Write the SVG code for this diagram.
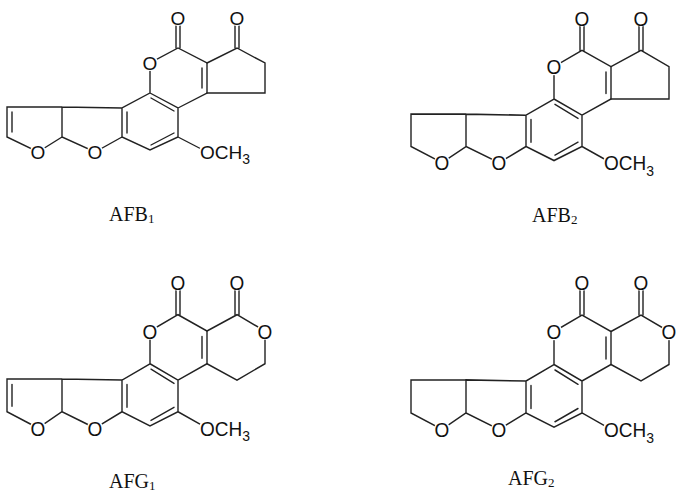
<svg xmlns="http://www.w3.org/2000/svg" xmlns:xlink="http://www.w3.org/1999/xlink" width="679" height="496" viewBox="0 0 679 496">
<style>
.b{stroke:#222;stroke-width:1.4;fill:none;stroke-linecap:round}
.bg{fill:#fff}
.a{font-family:"Liberation Sans",Arial,sans-serif;font-size:19px;fill:#111;text-anchor:middle}
.oc{font-family:"Liberation Sans",Arial,sans-serif;font-size:19px;fill:#111}
.lb{font-family:"Liberation Serif","Times New Roman",serif;font-size:20px;fill:#111}
</style>
<defs>
<g id="common">
<path class="b" d="M150,93 L178,108 L178,137 L150,150 L122,137 L122,108 Z M151,98 L174,111 M127,112 L127,133 M174,133 L151,145 M150,93 L150,63 L178,48 L207,63 L207,93 L178,108 M202,68 L202,88 M176,48 L176,18 M180,48 L180,18 M178,137 L207,152 M122,108 L62,107 L62,137 L95,152 L122,137 M62,107 L7,107 L7,137 L38,152 L62,137"/>
<circle class="bg" cx="150" cy="63" r="8"/><circle class="bg" cx="178" cy="18" r="8"/><circle class="bg" cx="95" cy="152" r="8"/><circle class="bg" cx="38" cy="152" r="8"/><circle class="bg" cx="207" cy="152" r="8"/>
<text class="a" x="150" y="70">O</text><text class="a" x="178" y="25">O</text><text class="a" x="95" y="159">O</text><text class="a" x="38" y="159">O</text>
<text class="oc" x="200" y="159">OCH<tspan font-size="14" dy="5">3</tspan></text>
</g>
<path id="dbl" class="b" d="M12,112 L12,132"/>
<g id="cp">
<path class="b" d="M207,63 L237,48 L265,63 L265,93 L207,93 M235,48 L235,18 M239,48 L239,18"/>
<circle class="bg" cx="237" cy="18" r="8"/><text class="a" x="237" y="25">O</text>
</g>
<g id="lac">
<path class="b" d="M207,63 L237,48 L265,63 L265,93 L237,108 L207,93 M235,48 L235,18 M239,48 L239,18"/>
<circle class="bg" cx="237" cy="18" r="8"/><circle class="bg" cx="265" cy="63" r="8"/>
<text class="a" x="237" y="25">O</text><text class="a" x="265" y="70">O</text>
</g>
</defs>
<g id="AFB1"><use xlink:href="#common"/><use xlink:href="#dbl"/><use xlink:href="#cp"/></g>
<g id="AFB2" transform="translate(582,18) scale(1.0,1.08) translate(-178,-18)"><use xlink:href="#common"/><use xlink:href="#cp"/></g>
<g id="AFG1" transform="translate(178,282) scale(1.0,1.09) translate(-178,-18)"><use xlink:href="#common"/><use xlink:href="#dbl"/><use xlink:href="#lac"/></g>
<g id="AFG2" transform="translate(582,282) scale(1.0,1.1) translate(-178,-18)"><use xlink:href="#common"/><use xlink:href="#lac"/></g>
<g id="labels">
<text class="lb" x="109" y="221">AFB<tspan font-size="13" dy="2">1</tspan></text>
<text class="lb" x="532" y="222">AFB<tspan font-size="13" dy="2">2</tspan></text>
<text class="lb" x="109" y="488">AFG<tspan font-size="13" dy="2">1</tspan></text>
<text class="lb" x="508" y="485">AFG<tspan font-size="13" dy="2">2</tspan></text>
</g>
<g id="connectors"/>
</svg>
